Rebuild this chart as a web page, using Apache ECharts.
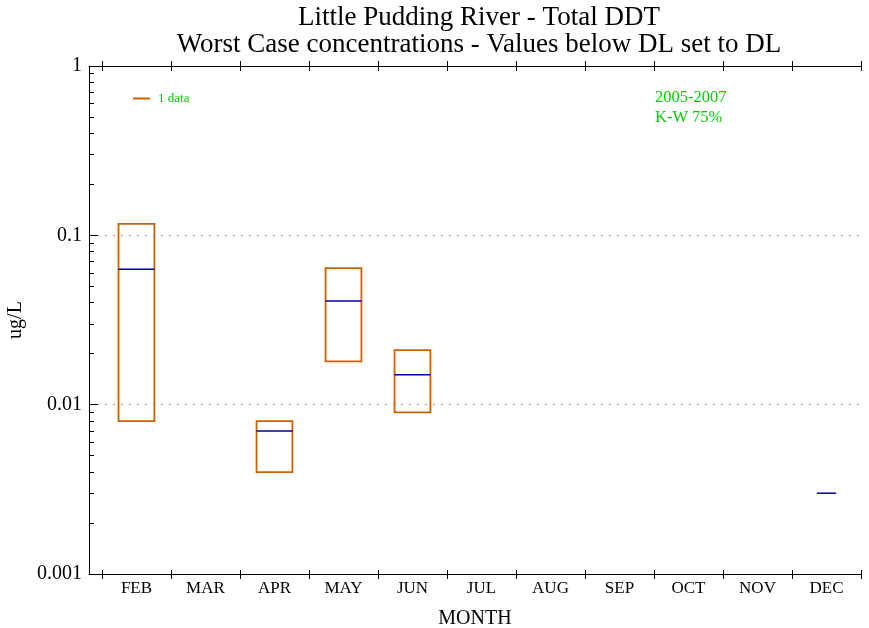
<!DOCTYPE html>
<html>
<head>
<meta charset="utf-8">
<script src="https://cdn.jsdelivr.net/npm/echarts@6/dist/echarts.min.js"></script>
<style>html,body{margin:0;padding:0;background:#fff}#c{width:869px;height:628px}</style>
</head>
<body>
<div id="c"></div>
<script>
const months = ['JAN','FEB','MAR','APR','MAY','JUN','JUL','AUG','SEP','OCT','NOV','DEC'];
// box data: month number, low, median, high
const boxMonths = [2, 4, 5, 6];
const boxLow = [0.008, 0.004, 0.018, 0.009];
const boxMedian = [0.063, 0.007, 0.041, 0.015];
const boxHigh = [0.117, 0.008, 0.064, 0.021];
// single-value months (1 data)
const singleMonths = [12];
const singleValues = [0.003];
const yTicks = [0.001, 0.01, 0.1, 1];
const yMinorTicks = [0.002,0.003,0.004,0.005,0.006,0.007,0.008,0.009,0.02,0.03,0.04,0.05,0.06,0.07,0.08,0.09,0.2,0.3,0.4,0.5,0.6,0.7,0.8,0.9];
const xBoundaries = [1.5,2.5,3.5,4.5,5.5,6.5,7.5,8.5,9.5,10.5,11.5,12.5];
const xLabelValues = [2,3,4,5,6,7,8,9,10,11,12];

const FONT = '"Liberation Serif", "DejaVu Serif", serif';
const ORANGE = '#cc6100';
const BLUE = '#00009a';
const GREEN = '#00cc00';

const boxData = boxMonths.map((m, i) => [m, boxLow[i], boxMedian[i], boxHigh[i]]);
const singleData = singleMonths.map((m, i) => [m, singleValues[i]]);

const chart = echarts.init(document.getElementById('c'));
const xCommon = {
  type: 'value', min: 1.312, max: 12.5, splitLine: {show: false}
};
chart.setOption({
  animation: false,
  backgroundColor: '#fff',
  grid: {left: 89, right: 8, top: 66, bottom: 54, containLabel: false, outerBoundsMode: 'none'},
  legend: {
    left: 128, top: 87, itemWidth: 17, itemHeight: 2, icon: 'rect', itemGap: 5,
    textStyle: {color: GREEN, fontFamily: FONT, fontSize: 13, padding: [0, 0, 0, 3]},
    data: [{name: '1 data', itemStyle: {color: ORANGE}}]
  },
  xAxis: [
    Object.assign({}, xCommon, {
      position: 'bottom',
      axisLine: {lineStyle: {color: '#000', width: 1}},
      axisTick: {show: true, length: 5, customValues: xBoundaries, lineStyle: {color: '#000'}},
      axisLabel: {show: true, customValues: xLabelValues, margin: 6, color: '#000', fontFamily: FONT, fontSize: 17,
        formatter: v => months[Math.round(v) - 1]},
      name: 'MONTH', nameLocation: 'middle', nameGap: 35,
      nameTextStyle: {color: '#000', fontFamily: FONT, fontSize: 20}
    }),
    Object.assign({}, xCommon, {
      position: 'bottom',
      axisLine: {show: false},
      axisTick: {show: true, inside: true, length: 4, customValues: xBoundaries, lineStyle: {color: '#000'}},
      axisLabel: {show: false}
    }),
    Object.assign({}, xCommon, {
      position: 'top',
      axisLine: {lineStyle: {color: '#000', width: 1}},
      axisTick: {show: true, length: 5, customValues: xBoundaries, lineStyle: {color: '#000'}},
      axisLabel: {show: false}
    }),
    Object.assign({}, xCommon, {
      position: 'top',
      axisLine: {show: false},
      axisTick: {show: true, inside: true, length: 5, customValues: xBoundaries, lineStyle: {color: '#000'}},
      axisLabel: {show: false}
    })
  ],
  yAxis: [
    {
      type: 'log', logBase: 10, min: 0.001, max: 1, position: 'left',
      axisLine: {show: true, lineStyle: {color: '#000', width: 1}},
      axisTick: {show: true, inside: true, length: 9, customValues: yTicks, lineStyle: {color: '#000'}},
      axisLabel: {customValues: yTicks, margin: 7, color: '#000', fontFamily: FONT, fontSize: 20,
        formatter: v => String(v)},
      splitLine: {show: true, lineStyle: {color: '#999', type: [2, 6], width: 1}},
      name: 'ug/L', nameLocation: 'middle', nameGap: 61, nameRotate: 90,
      nameTextStyle: {color: '#000', fontFamily: FONT, fontSize: 20}
    },
    {
      type: 'log', logBase: 10, min: 0.001, max: 1, position: 'left',
      axisLine: {show: false},
      axisTick: {show: true, inside: true, length: 5, customValues: yMinorTicks, lineStyle: {color: '#000'}},
      axisLabel: {show: false},
      splitLine: {show: false}
    }
  ],
  graphic: [
    {type: 'text', x: 479, y: 4, z: 10, style: {
      text: 'Little Pudding River - Total DDT\nWorst Case concentrations - Values below DL set to DL',
      fill: '#000', font: '27px ' + FONT, lineHeight: 27, textAlign: 'center', align: 'center'}},
    {type: 'text', left: 655, top: 88, z: 10, style: {
      text: '2005-2007\nK-W 75%', fill: GREEN, font: '16.5px ' + FONT, lineHeight: 20}}
  ],
  series: [
    {
      name: 'boxes', type: 'custom', xAxisIndex: 0, yAxisIndex: 0,
      data: boxData,
      renderItem: (params, api) => {
        const m = api.value(0);
        const lo = api.coord([m - 0.26, api.value(1)]);
        const hi = api.coord([m + 0.26, api.value(3)]);
        const mL = api.coord([m - 0.26, api.value(2)]);
        const mR = api.coord([m + 0.26, api.value(2)]);
        return {type: 'group', children: [
          {type: 'rect', shape: {x: lo[0], y: hi[1], width: hi[0] - lo[0], height: lo[1] - hi[1]},
            style: {fill: 'none', stroke: ORANGE, lineWidth: 1.8}},
          {type: 'line', shape: {x1: mL[0], y1: mL[1], x2: mR[0], y2: mR[1]},
            style: {stroke: BLUE, lineWidth: 1.5}}
        ]};
      }
    },
    {
      name: 'single', type: 'custom', xAxisIndex: 0, yAxisIndex: 0,
      data: singleData,
      renderItem: (params, api) => {
        const m = api.value(0);
        const a = api.coord([m - 0.14, api.value(1)]);
        const b = api.coord([m + 0.14, api.value(1)]);
        return {type: 'line', shape: {x1: a[0], y1: a[1], x2: b[0], y2: b[1]},
          style: {stroke: BLUE, lineWidth: 1.5}};
      }
    },
    {name: '1 data', type: 'line', data: [], itemStyle: {color: ORANGE}, lineStyle: {color: ORANGE}}
  ]
});
</script>
</body>
</html>
